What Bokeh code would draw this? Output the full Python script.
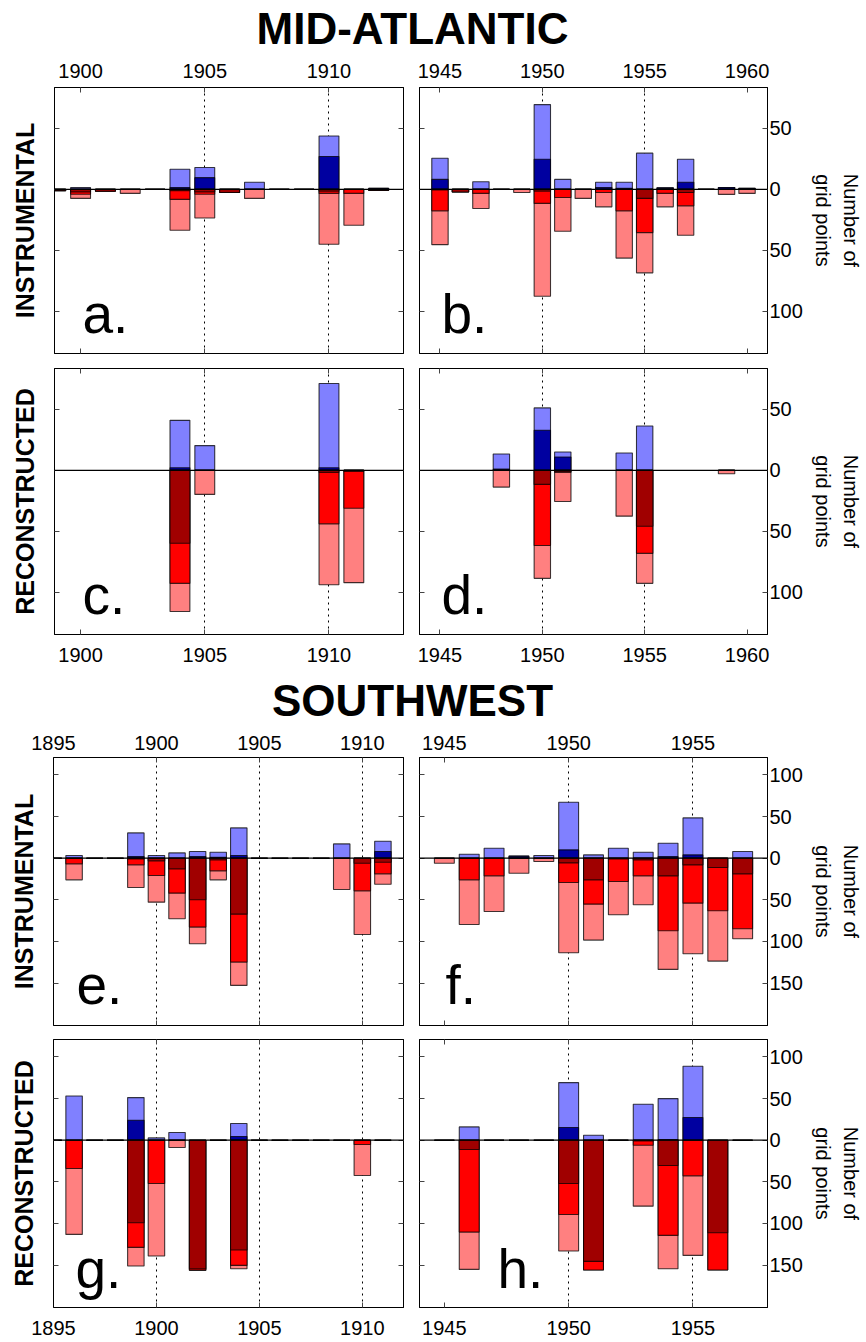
from bokeh.plotting import figure
from bokeh.models import Range1d, LinearAxis, FixedTicker, Span, Label, Grid, ColumnDataSource
from bokeh.layouts import column, row
from bokeh.embed import file_html
from bokeh.resources import INLINE

FONT = "Liberation Sans"
C_LB, C_DB = "#8080FF", "#0000A0"
C_LR, C_MR, C_DR = "#FF8080", "#FF0000", "#A00000"

# ---------------- MID-ATLANTIC ----------------
# a. instrumental 1899-1912
a_years = [1899, 1900, 1901, 1902, 1903, 1904, 1905, 1906, 1907, 1908, 1909, 1910, 1911, 1912]
a_blue_all = [0, 1.6, 0, 0, 0, 16.5, 17.9, 0, 5.8, 0, 0, 43.7, 0, 0.8]
a_blue_dark = [0, 0, 0, 0, 0, 1.6, 9.6, 0, 0, 0, 0, 27.0, 0, 0.8]
a_red_dark = [1.0, 2.0, 1.5, 0, 0, 1.0, 2.0, 2.5, 0, 0, 0, 1.4, 0, 0.8]
a_red_mid = [1.0, 4.0, 1.5, 0, 0, 8.2, 4.0, 2.5, 0, 0, 0, 3.3, 3.3, 0.8]
a_red_all = [1.0, 7.4, 1.5, 3.3, 0, 33.5, 23.4, 2.5, 7.4, 0, 0, 45.0, 29.4, 0.8]

# b. instrumental 1945-1960
b_years = [1945, 1946, 1947, 1948, 1949, 1950, 1951, 1952, 1953, 1954, 1955, 1956, 1957, 1958, 1959, 1960]
b_blue_all = [25.5, 0, 6.3, 0, 0, 69.5, 8.2, 0, 5.8, 5.8, 29.7, 1.6, 24.7, 0, 1.6, 0.8]
b_blue_dark = [8.2, 0, 0, 0, 0, 24.7, 0, 0, 1.6, 0.8, 0, 0.8, 5.8, 0, 1.6, 0.8]
b_red_dark = [0.5, 2.2, 0, 0, 0, 1.4, 0, 0, 0, 0, 7.4, 0, 2.5, 0, 0, 0]
b_red_mid = [17.6, 2.2, 3.3, 0, 0, 11.5, 6.6, 0, 2.5, 17.6, 35.4, 3.3, 13.5, 0, 0, 0]
b_red_all = [45.3, 2.2, 15.7, 0, 2.5, 87.6, 34.3, 7.4, 14.3, 56.3, 68.4, 14.3, 37.6, 0, 4.1, 3.3]

# c. reconstructed
c_years = [1904, 1905, 1910, 1911]
c_blue_all = [41.0, 20.3, 71.2, 0]
c_blue_dark = [2.2, 0, 2.2, 0]
c_red_dark = [59.7, 0, 1.6, 0.8]
c_red_mid = [92.6, 0, 43.8, 31.0]
c_red_all = [115.6, 19.7, 93.7, 92.0]

# d. reconstructed
d_years = [1948, 1950, 1951, 1954, 1955, 1959]
d_blue_all = [13.4, 51.2, 15.1, 14.2, 36.4, 0]
d_blue_dark = [1.0, 32.9, 11.0, 0, 0, 0]
d_red_dark = [0, 11.5, 0.8, 0, 45.8, 0]
d_red_mid = [0, 61.6, 1.6, 0, 68.0, 0]
d_red_all = [13.7, 88.5, 25.5, 37.5, 92.6, 2.7]

# ---------------- SOUTHWEST ----------------
e_years = list(range(1895, 1912))
e_blue_all = [0, 3.2, 0, 0, 30.4, 3.2, 6.4, 8.0, 7.2, 36.4, 0, 0, 0, 0, 17.2, 0, 20.4]
e_blue_dark = [0, 0, 0, 0, 2.0, 0, 0, 2.0, 1.0, 3.2, 0, 0, 0, 0, 0, 0, 8.0]
e_red_dark = [0, 0, 0, 0, 1.0, 3.2, 12.8, 50.0, 2.0, 67.2, 0, 0, 0, 0, 0, 6.0, 4.8]
e_red_mid = [0, 6.8, 0, 0, 8.0, 20.8, 42.0, 82.8, 15.2, 124.8, 0, 0, 0, 0, 0, 39.2, 18.8]
e_red_all = [0, 26.0, 0, 0, 35.2, 52.8, 72.8, 102.8, 26.0, 152.8, 0, 0, 0, 0, 37.6, 91.6, 31.2]

f_years = list(range(1945, 1958))
f_blue_all = [0, 4.8, 12.0, 2.8, 3.2, 67.2, 4.0, 12.0, 7.2, 18.0, 48.4, 0, 8.0]
f_blue_dark = [0, 0, 0, 2.0, 0, 10.0, 0, 0, 0, 2.0, 4.0, 0, 0]
f_red_dark = [0, 0, 0, 0, 0, 5.6, 26.0, 1.0, 2.0, 21.2, 8.0, 11.2, 18.8]
f_red_mid = [0, 26.0, 21.2, 0, 0, 29.2, 55.2, 28.0, 21.2, 87.2, 54.0, 63.2, 84.8]
f_red_all = [6.0, 79.6, 64.0, 18.0, 4.0, 113.6, 98.4, 68.0, 56.0, 133.6, 114.8, 123.6, 96.8]

g_years = list(range(1895, 1912))
g_blue_all = [0, 53.2, 0, 0, 51.2, 2.8, 9.2, 0, 0, 20.0, 0, 0, 0, 0, 0, 0, 0]
g_blue_dark = [0, 0, 0, 0, 24.0, 0, 0, 0, 0, 4.4, 0, 0, 0, 0, 0, 0, 0]
g_red_dark = [0, 0, 0, 0, 99.2, 0, 0, 154.4, 0, 132.0, 0, 0, 0, 0, 0, 0, 0]
g_red_mid = [0, 34.0, 0, 0, 128.8, 52.0, 0, 156.0, 0, 150.4, 0, 0, 0, 0, 0, 5.2, 0]
g_red_all = [0, 113.2, 0, 0, 151.2, 139.2, 8.8, 156.5, 0, 154.4, 0, 0, 0, 0, 0, 42.4, 0]

h_years = list(range(1945, 1958))
h_blue_all = [0, 16.0, 0, 0, 0, 69.2, 6.0, 0, 43.2, 50.0, 88.8, 0, 0]
h_blue_dark = [0, 0, 0, 0, 0, 15.2, 0, 0, 0, 0.8, 27.2, 0, 0]
h_red_dark = [0, 11.2, 0, 0, 0, 52.0, 145.6, 0, 0.8, 30.4, 0, 111.2, 0]
h_red_mid = [0, 110.4, 0, 0, 0, 89.2, 156.0, 0, 6.0, 114.4, 42.8, 156.0, 0]
h_red_all = [0, 155.2, 0, 0, 0, 133.2, 156.0, 0, 79.2, 154.4, 138.4, 156.0, 0]

# axis ticks
ma_early_ticks = [1900, 1905, 1910]
ma_late_ticks = [1945, 1950, 1955, 1960]
sw_early_ticks = [1895, 1900, 1905, 1910]
sw_late_ticks = [1945, 1950, 1955]
ma_yticks = [50, 0, -50, -100]
sw_yticks = [100, 50, 0, -50, -100, -150]


def mk_axis(ticks, labels_on, overrides=None, font_size="20px", standoff=5):
    ax = LinearAxis(ticker=FixedTicker(ticks=ticks, minor_ticks=[]))
    ax.major_tick_in = 5
    ax.major_tick_out = 0
    ax.minor_tick_in = 0
    ax.minor_tick_out = 0
    ax.axis_line_color = "black"
    ax.axis_line_width = 1
    ax.major_tick_line_color = "#444444"
    ax.major_label_text_font = FONT
    ax.major_label_text_color = "black"
    if labels_on:
        ax.major_label_text_font_size = font_size
        ax.major_label_standoff = standoff
        if overrides:
            ax.major_label_overrides = overrides
    else:
        ax.major_label_text_font_size = "1px"
        ax.major_label_standoff = 0
        ax.major_label_overrides = {t: "" for t in ticks}
    return ax


def make_panel(years, blue_all, blue_dark, red_dark, red_mid, red_all, *, xr, yr,
               width, height, borders, xticks, gridticks, yticks,
               top_labels, bottom_labels, right_labels, left_title,
               letter, letter_dx, letter_dy, top_standoff=12, bottom_standoff=13):
    bl, br, bt, bb = borders
    p = figure(width=width, height=height, x_range=Range1d(*xr), y_range=Range1d(*yr),
               x_axis_location=None, y_axis_location=None, toolbar_location=None,
               output_backend="svg", min_border_left=bl, min_border_right=br,
               min_border_top=bt, min_border_bottom=bb,
               outline_line_color="black", background_fill_color="white",
               border_fill_color="white")
    p.grid.visible = False

    p.add_layout(Grid(dimension=0, ticker=FixedTicker(ticks=gridticks, minor_ticks=[]),
                      grid_line_color="black", grid_line_dash="2 4", grid_line_width=1))

    src = ColumnDataSource(dict(
        x=years,
        ba=blue_all, bd=blue_dark,
        rd=[-v for v in red_dark], rm=[-v for v in red_mid], ra=[-v for v in red_all],
    ))
    kw = dict(x="x", width=0.8, line_color="black", line_alpha=0.75, line_width=1.1, source=src)
    p.vbar(bottom=0, top="ba", fill_color=C_LB, **kw)
    p.vbar(bottom=0, top="bd", fill_color=C_DB, **kw)
    p.vbar(top=0, bottom="ra", fill_color=C_LR, **kw)
    p.vbar(top=0, bottom="rm", fill_color=C_MR, **kw)
    p.vbar(top=0, bottom="rd", fill_color=C_DR, **kw)

    p.add_layout(Span(location=0, dimension="width", line_color="black", line_width=1.2))

    p.add_layout(mk_axis(xticks, top_labels, standoff=top_standoff), "above")
    p.add_layout(mk_axis(xticks, bottom_labels, standoff=bottom_standoff), "below")

    lax = mk_axis(yticks, False)
    if left_title:
        lax.axis_label = left_title
        lax.axis_label_text_font = FONT
        lax.axis_label_text_font_size = "25px"
        lax.axis_label_text_font_style = "bold"
        lax.axis_label_text_color = "black"
        lax.axis_label_standoff = 16
    p.add_layout(lax, "left")

    ov = {t: str(abs(int(t))) for t in yticks}
    rax = mk_axis(yticks, right_labels, overrides=ov, standoff=2)
    if right_labels:
        rax.axis_label = "Number of\ngrid points"
        rax.axis_label_text_font = FONT
        rax.axis_label_text_font_size = "20px"
        rax.axis_label_text_font_style = "normal"
        rax.axis_label_text_color = "black"
        rax.axis_label_text_line_height = 1.3
        rax.axis_label_standoff = 6
    p.add_layout(rax, "right")

    p.add_layout(Label(x=xr[0], y=yr[0], x_offset=letter_dx, y_offset=letter_dy, text=letter,
                       text_font=FONT, text_font_size="55px", text_color="black",
                       text_baseline="middle", text_align="left"))
    return p


def title_fig(text, height, ymid):
    p = figure(width=865, height=height, x_range=Range1d(0, 865), y_range=Range1d(0, height),
               x_axis_location=None, y_axis_location=None, toolbar_location=None,
               output_backend="svg", min_border=0, outline_line_color=None)
    p.grid.visible = False
    p.add_layout(Label(x=412, y=ymid, text=text, text_font=FONT, text_font_size="44px",
                       text_font_style="bold", text_align="center", text_baseline="middle",
                       text_color="black"))
    return p


MA_XR_E = (1898.95, 1913.0)
MA_XR_L = (1944.0, 1961.0)
MA_YR = (-134.5, 83.5)
SW_XR_E = (1895.0, 1912.0)
SW_XR_L = (1944.0, 1958.0)
SW_YR = (-201.0, 121.0)

t1 = title_fig("MID-ATLANTIC", 54, 26)

pa = make_panel(a_years, a_blue_all, a_blue_dark, a_red_dark, a_red_mid, a_red_all,
                xr=MA_XR_E, yr=MA_YR, width=411, height=306, borders=(54, 8, 33, 7),
                xticks=ma_early_ticks, gridticks=[1905, 1910], yticks=ma_yticks,
                top_labels=True, bottom_labels=False, right_labels=False,
                left_title="INSTRUMENTAL", letter="a.", letter_dx=28, letter_dy=40,
                top_standoff=10)
pb = make_panel(b_years, b_blue_all, b_blue_dark, b_red_dark, b_red_mid, b_red_all,
                xr=MA_XR_L, yr=MA_YR, width=454, height=306, borders=(8, 97, 33, 7),
                xticks=ma_late_ticks, gridticks=[1950, 1955], yticks=ma_yticks,
                top_labels=True, bottom_labels=False, right_labels=True,
                left_title=None, letter="b.", letter_dx=22, letter_dy=40,
                top_standoff=10)
pc = make_panel(c_years, c_blue_all, c_blue_dark, c_red_dark, c_red_mid, c_red_all,
                xr=MA_XR_E, yr=MA_YR, width=411, height=311, borders=(54, 8, 8, 37),
                xticks=ma_early_ticks, gridticks=[1905, 1910], yticks=ma_yticks,
                top_labels=False, bottom_labels=True, right_labels=False,
                left_title="RECONSTRUCTED", letter="c.", letter_dx=28, letter_dy=40)
pd_ = make_panel(d_years, d_blue_all, d_blue_dark, d_red_dark, d_red_mid, d_red_all,
                 xr=MA_XR_L, yr=MA_YR, width=454, height=311, borders=(8, 97, 8, 37),
                 xticks=ma_late_ticks, gridticks=[1950, 1955], yticks=ma_yticks,
                 top_labels=False, bottom_labels=True, right_labels=True,
                 left_title=None, letter="d.", letter_dx=22, letter_dy=40)

t2 = title_fig("SOUTHWEST", 55, 26)

pe = make_panel(e_years, e_blue_all, e_blue_dark, e_red_dark, e_red_mid, e_red_all,
                xr=SW_XR_E, yr=SW_YR, width=411, height=306, borders=(53, 8, 31, 7),
                xticks=sw_early_ticks, gridticks=[1900, 1905, 1910], yticks=sw_yticks,
                top_labels=True, bottom_labels=False, right_labels=False,
                left_title="INSTRUMENTAL", letter="e.", letter_dx=23, letter_dy=41,
                top_standoff=8)
pf = make_panel(f_years, f_blue_all, f_blue_dark, f_red_dark, f_red_mid, f_red_all,
                xr=SW_XR_L, yr=SW_YR, width=454, height=306, borders=(8, 95, 31, 7),
                xticks=sw_late_ticks, gridticks=[1950, 1955], yticks=sw_yticks,
                top_labels=True, bottom_labels=False, right_labels=True,
                left_title=None, letter="f.", letter_dx=26, letter_dy=41,
                top_standoff=8)
pg = make_panel(g_years, g_blue_all, g_blue_dark, g_red_dark, g_red_mid, g_red_all,
                xr=SW_XR_E, yr=SW_YR, width=411, height=309, borders=(53, 8, 7, 34),
                xticks=sw_early_ticks, gridticks=[1900, 1905, 1910], yticks=sw_yticks,
                top_labels=False, bottom_labels=True, right_labels=False,
                left_title="RECONSTRUCTED", letter="g.", letter_dx=22, letter_dy=39)
ph = make_panel(h_years, h_blue_all, h_blue_dark, h_red_dark, h_red_mid, h_red_all,
                xr=SW_XR_L, yr=SW_YR, width=454, height=309, borders=(8, 95, 7, 34),
                xticks=sw_late_ticks, gridticks=[1950, 1955], yticks=sw_yticks,
                top_labels=False, bottom_labels=True, right_labels=True,
                left_title=None, letter="h.", letter_dx=78, letter_dy=39)

layout = column(t1, row(pa, pb), row(pc, pd_), t2, row(pe, pf), row(pg, ph))

open("out.html", "w").write(file_html(layout, INLINE))
